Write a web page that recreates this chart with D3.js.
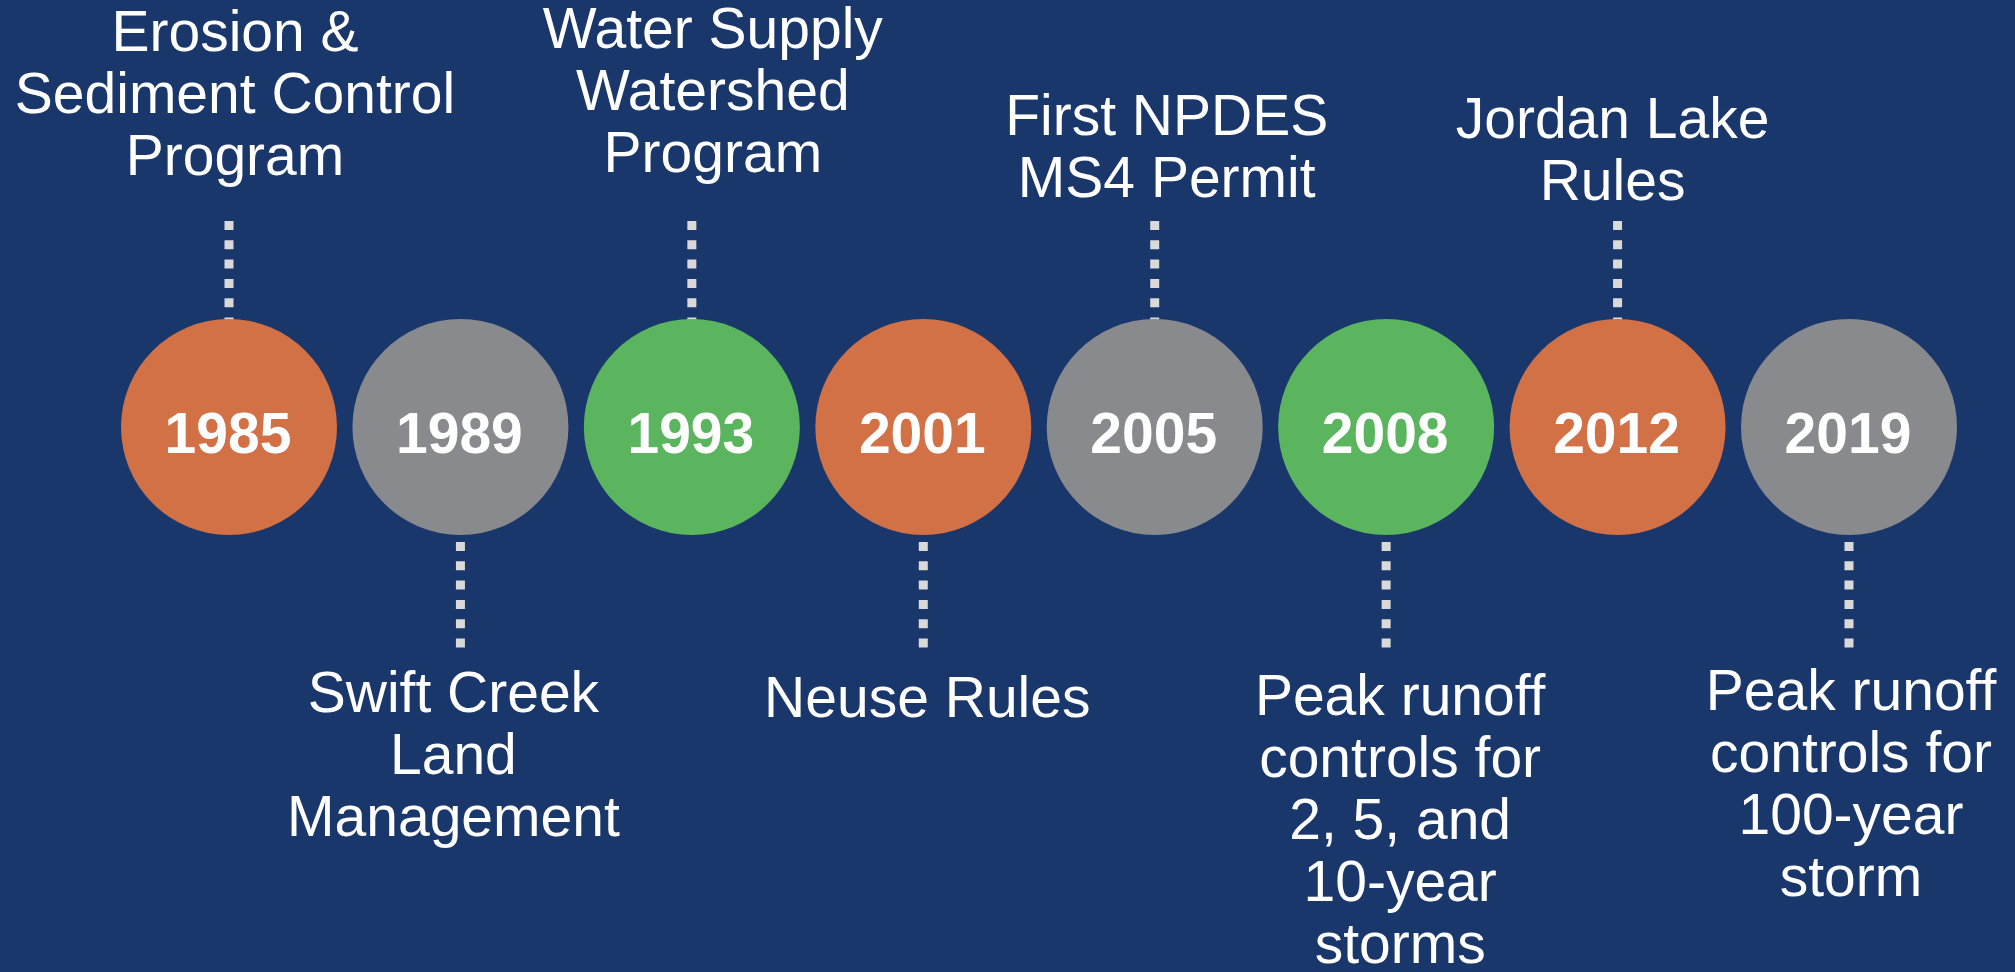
<!DOCTYPE html>
<html>
<head>
<meta charset="utf-8">
<script src="https://cdn.jsdelivr.net/npm/d3@7"></script>
<style>
  html, body { margin: 0; padding: 0; background: #1a376b; }
  svg { display: block; }
  .year-text { font-family: "Liberation Sans", Arial, sans-serif; font-weight: bold; fill: #fff; }
  .event-text { font-family: "Liberation Sans", Arial, sans-serif; fill: #fff; }
</style>
</head>
<body>
<svg id="chart" width="2015" height="972"></svg>
<script>
// timeline data
var years = ["1985", "1989", "1993", "2001", "2005", "2008", "2012", "2019"];
var programs = ["program", "other", "watershed", "program", "other", "watershed", "program", "other"];
var events = [
  ["Erosion &", "Sediment Control", "Program"],
  ["Swift Creek", "Land", "Management"],
  ["Water Supply", "Watershed", "Program"],
  ["Neuse Rules"],
  ["First NPDES", "MS4 Permit"],
  ["Peak runoff", "controls for", "2, 5, and", "10-year", "storms"],
  ["Jordan Lake", "Rules"],
  ["Peak runoff", "controls for", "100-year", "storm"]
];

// layout (label nudges)
var labelDx = [6, -7, 21, 4, 12, 14, -5, 2];
var topLastBaseline = [175, 0, 172, 0, 197, 0, 200, 0];
var bottomFirstBaseline = [0, 712, 0, 717, 0, 715, 0, 710];

var width = 2015, height = 972;
var cy = 427, r = 108;
var lineHeight = 62;

var svg = d3.select("#chart");

svg.append("rect")
  .attr("width", width)
  .attr("height", height)
  .attr("fill", "#1a376b");

var x = d3.scalePoint()
  .domain(years)
  .range([229, 1849]);

var color = d3.scaleOrdinal()
  .domain(["program", "other", "watershed"])
  .range(["#d27046", "#898a8e", "#5bb55e"]);

var data = years.map(function(y, i) {
  return {year: y, kind: programs[i], lines: events[i], i: i, top: i % 2 === 0};
});

// dotted connectors
svg.append("g").selectAll("line")
  .data(data)
  .enter()
  .append("line")
  .attr("x1", function(d) { return x(d.year); })
  .attr("x2", function(d) { return x(d.year); })
  .attr("y1", function(d) { return d.top ? 221 : 542; })
  .attr("y2", function(d) { return d.top ? cy : 648; })
  .style("stroke", "#d9d9d9")
  .style("stroke-width", 9)
  .style("stroke-dasharray", "9 10.3");

// circles
svg.append("g").selectAll("circle")
  .data(data)
  .enter()
  .append("circle")
  .attr("cx", function(d) { return x(d.year); })
  .attr("cy", cy)
  .attr("r", r)
  .attr("fill", function(d) { return color(d.kind); });

// year labels
svg.append("g").selectAll("text")
  .data(data)
  .enter()
  .append("text")
  .attr("class", "year-text")
  .attr("x", function(d) { return x(d.year) - 1; })
  .attr("y", 453)
  .attr("text-anchor", "middle")
  .style("font-size", "57px")
  .text(function(d) { return d.year; });

// event labels
var labels = svg.append("g").selectAll("text")
  .data(data)
  .enter()
  .append("text")
  .attr("class", "event-text")
  .attr("text-anchor", "middle")
  .style("font-size", "57px");

labels.each(function(d) {
  var t = d3.select(this);
  var n = d.lines.length;
  var y0 = d.top ? topLastBaseline[d.i] - (n - 1) * lineHeight : bottomFirstBaseline[d.i];
  d.lines.forEach(function(s, k) {
    t.append("tspan")
      .attr("x", x(d.year) + labelDx[d.i])
      .attr("y", y0 + k * lineHeight)
      .text(s);
  });
});
</script>
</body>
</html>
